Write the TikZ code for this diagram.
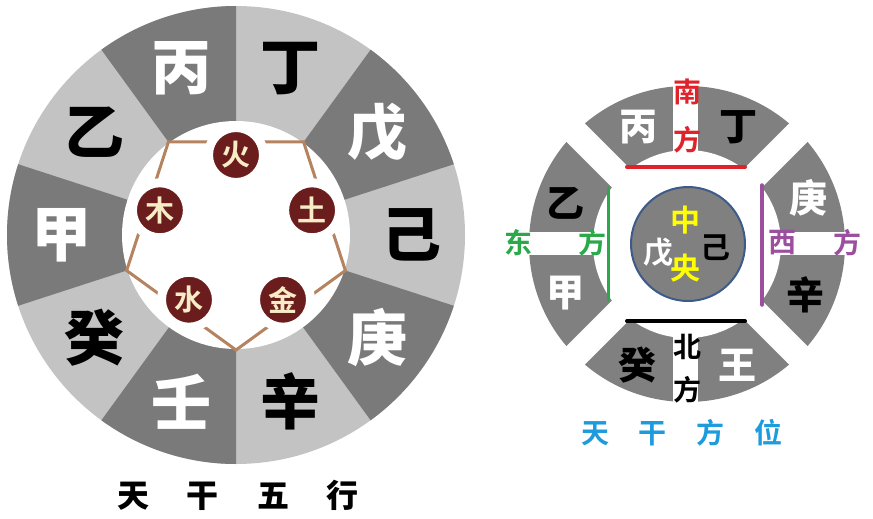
\documentclass[tikz,border=0pt]{standalone}
\usepackage{fontspec}
\newfontfamily\hei{Noto Sans CJK SC}[BoldFont={Noto Sans CJK SC Bold}]
\newfontfamily\heavy{Noto Sans CJK SC Black}
\usepackage{tikz}
\usetikzlibrary{positioning}
\usepackage{xcolor}
\definecolor{segdark}{HTML}{7A7A7A}
\definecolor{seglight}{HTML}{C3C3C3}
\definecolor{ringgray}{HTML}{808080}
\definecolor{wxline}{HTML}{B5835F}
\definecolor{wxfill}{HTML}{6B1D1D}
\definecolor{wxtext}{HTML}{F6EDC6}
\definecolor{nanred}{HTML}{E0222A}
\definecolor{dongreen}{HTML}{2BA84A}
\definecolor{xipurple}{HTML}{9C4F9F}
\definecolor{titleblue}{HTML}{1E9BDC}
\definecolor{zhongyellow}{HTML}{FFFF00}
\definecolor{rimblue}{HTML}{3C5B88}

\begin{document}
\begin{tikzpicture}[x=1pt, y=1pt,
                    gan/.style={inner sep=0pt, font=\heavy\fontsize{60}{60}\selectfont},
                    ganr/.style={inner sep=0pt, font=\heavy\fontsize{38}{38}\selectfont},
                    fang/.style={inner sep=0pt, font=\hei\bfseries\fontsize{28}{28}\selectfont},
                    elem/.style={circle, fill=wxfill, draw=white, line width=9pt, minimum size=55pt,
                                 inner sep=0pt, text=wxtext, font=\hei\bfseries\fontsize{29}{29}\selectfont},
                    title/.style={inner sep=0pt, font=\heavy\fontsize{32}{32}\selectfont}]
                \useasboundingbox (0,0) rectangle (873,-519);
                % left wheel
                \coordinate (c1) at (236,-235);
                \fill[seglight] (c1) circle[radius=229];
                \fill[segdark] (c1) -- ++(90:229) arc[start angle=90, end angle=126, radius=229] -- cycle;
                \fill[segdark] (c1) -- ++(18:229) arc[start angle=18, end angle=54, radius=229] -- cycle;
                \fill[segdark] (c1) -- ++(-54:229) arc[start angle=-54, end angle=-18, radius=229] -- cycle;
                \fill[segdark] (c1) -- ++(-126:229) arc[start angle=-126, end angle=-90, radius=229] -- cycle;
                \fill[segdark] (c1) -- ++(162:229) arc[start angle=162, end angle=198, radius=229] -- cycle;
                \fill[white] (c1) circle[radius=114];
                \coordinate (pa) at ([shift={(54:115)}]c1);
                \coordinate (pb) at ([shift={(126:115)}]c1);
                \coordinate (pc) at ([shift={(198:115)}]c1);
                \coordinate (pd) at ([shift={(270:115)}]c1);
                \coordinate (pe) at ([shift={(342:115)}]c1);
                \draw[wxline, line width=3pt] (pa) -- (pb) -- (pc) -- (pd) -- (pe) -- cycle;
                \node[elem] (huo)  at ([shift={(90:80)}]c1) {火};
                \node[elem] (tu)   at ([shift={(18:80)}]c1) {土};
                \node[elem] (jin)  at ([shift={(-54:80)}]c1) {金};
                \node[elem] (shui) at ([shift={(-126:80)}]c1) {水};
                \node[elem] (mu)   at ([shift={(162:80)}]c1) {木};
                \node[gan, text=white] (bing) at ([shift={(108:175)}]c1) {丙};
                \node[gan, text=black] (ding) at ([shift={(72:175)}]c1) {丁};
                \node[gan, text=white] (wu)   at ([shift={(36:175)}]c1) {戊};
                \node[gan, text=black] (ji)   at ([shift={(0:175)}]c1) {己};
                \node[gan, text=white] (geng) at ([shift={(-36:175)}]c1) {庚};
                \node[gan, text=black] (xin)  at ([shift={(-72:175)}]c1) {辛};
                \node[gan, text=white] (ren)  at ([shift={(-108:175)}]c1) {壬};
                \node[gan, text=black] (gui)  at ([shift={(-144:175)}]c1) {癸};
                \node[gan, text=white] (jia)  at ([shift={(180:175)}]c1) {甲};
                \node[gan, text=black] (yi)   at ([shift={(144:175)}]c1) {乙};
                \node[title] (wxtitle) at (238,-495) {天\hspace{38pt}干\hspace{38pt}五\hspace{38pt}行};
                % right wheel
                \coordinate (c2) at (687,-244);
                \fill[ringgray] (c2) circle[radius=158];
                \fill[white] (c2) circle[radius=94];
                \fill[white, shift={(687,-244)}, rotate=45] (-170,-13) rectangle (170,13);
                \fill[white, shift={(687,-244)}, rotate=-45] (-170,-13) rectangle (170,13);
                \fill[white] (522,-232) rectangle (608,-255);
                \fill[white] (762,-232) rectangle (850,-255);
                \fill[white] (673,-80) rectangle (698,-167);
                \fill[white] (673,-321) rectangle (698,-408);
                \node[circle, fill=ringgray, draw=rimblue, line width=2pt, minimum size=114pt] (zhongyang) at (688,-244) {};
                \coordinate (nanL) at (627,-167);
                \coordinate (nanR) at (745,-167);
                \coordinate (beiL) at (627,-321);
                \coordinate (beiR) at (745,-321);
                \coordinate (dongT) at (608,-188);
                \coordinate (dongB) at (608,-300);
                \coordinate (xiT) at (762,-185);
                \coordinate (xiB) at (762,-305);
                \draw[nanred, line width=4pt, line cap=round] (nanL) -- (nanR);
                \draw[black, line width=4pt, line cap=round] (beiL) -- (beiR);
                \draw[dongreen, line width=3pt, line cap=round] (dongT) -- (dongB);
                \draw[xipurple, line width=3.5pt, line cap=round] (xiT) -- (xiB);
                \node[ganr, text=white] (bing2) at (638,-127) {丙};
                \node[ganr, text=black] (ding2) at (738,-127) {丁};
                \node[ganr, text=black] (yi2)   at (565,-203) {乙};
                \node[ganr, text=white] (jia2)  at (565,-293) {甲};
                \node[ganr, text=white] (geng2) at (808,-198) {庚};
                \node[ganr, text=black] (xin2)  at (805,-295) {辛};
                \node[ganr, text=black] (gui2)  at (637,-365) {癸};
                \node[ganr, text=white] (ren2)  at (737,-365) {王};
                \node[fang, text=nanred] (nan)   at (687,-92) {南};
                \node[fang, text=nanred] (nanf)  at (687,-140) {方};
                \node[fang, text=black] (bei)    at (687,-347) {北};
                \node[fang, text=black] (beif)   at (687,-390) {方};
                \node[fang, text=dongreen] (dong)  at (518,-243) {东};
                \node[fang, text=dongreen] (dongf) at (592,-243) {方};
                \node[fang, text=xipurple] (xi)    at (782,-243) {西};
                \node[fang, text=xipurple] (xif)   at (847,-243) {方};
                \node[fang, text=zhongyellow, font=\hei\bfseries\fontsize{30}{30}\selectfont] (zhong) at (685,-220) {中};
                \node[fang, text=zhongyellow, font=\hei\bfseries\fontsize{30}{30}\selectfont] (yang)  at (685,-268) {央};
                \node[fang, text=white, font=\hei\bfseries\fontsize{30}{30}\selectfont] (wu2) at (658,-252) {戊};
                \node[fang, text=black, font=\hei\bfseries\fontsize{30}{30}\selectfont] (ji2) at (715,-248) {己};
                \node[title, text=titleblue, font=\hei\bfseries\fontsize{28}{28}\selectfont] (fwtitle) at (682,-433)
                    {天\hspace{30pt}干\hspace{30pt}方\hspace{30pt}位};
            \end{tikzpicture}
\end{document}
